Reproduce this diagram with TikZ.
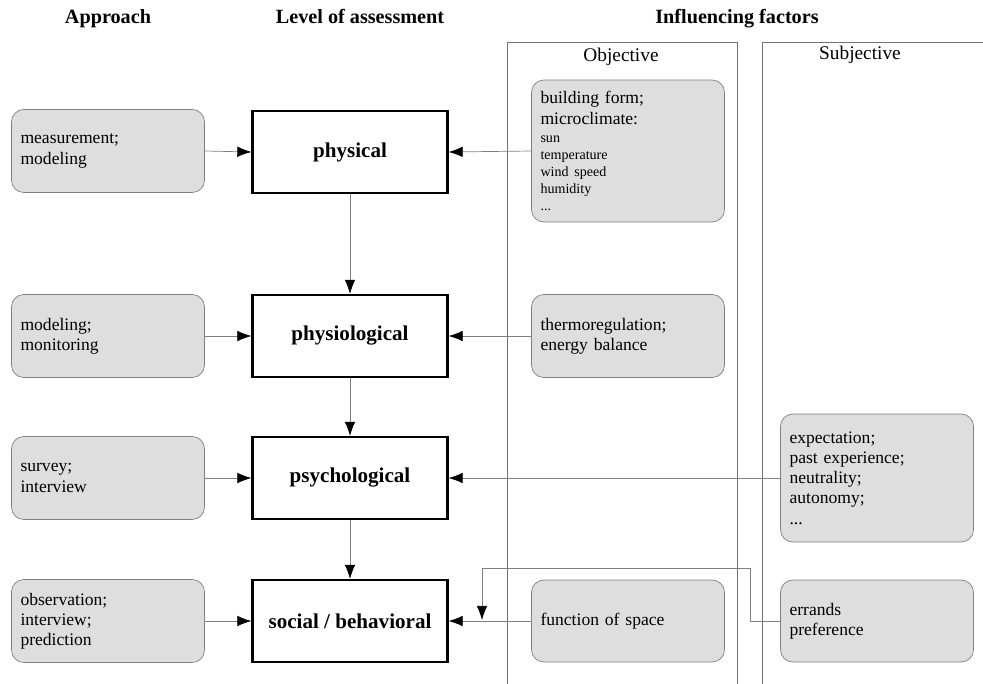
\documentclass[tikz,border=0pt]{standalone}
\usepackage{fontspec}
\setmainfont{Liberation Serif}
\usetikzlibrary{arrows.meta}
\begin{document}
\begin{tikzpicture}[x=0.02cm,y=-0.02cm,
  factor/.style={draw=black!50,fill=black!13,rounded corners=7pt,text width=3.5cm,inner xsep=0.18cm,align=left,font=\fontsize{10}{11.5}\selectfont},
  level/.style={draw,line width=1.3pt,minimum width=3.9cm,minimum height=1.64cm,font=\fontsize{12}{14}\selectfont\bfseries},
  head/.style={anchor=base,font=\fontsize{11.5}{14}\selectfont\bfseries},
  column/.style={anchor=base,font=\fontsize{11}{13}\selectfont},
  link/.style={draw=black!50,-{Latex[black,length=8pt,width=6pt]}}]
  \useasboundingbox (0,0) rectangle (983,683);
  \node[head] (hApp) at (108,23) {Approach};
  \node[head] (hLev) at (360,23) {Level of assessment};
  \node[head] (hInf) at (737,23) {Influencing factors};
  \draw[black!55] (507,690) -- (507,42) -- (737,42) -- (737,690);
  \draw[black!55] (762,690) -- (762,42) -- (990,42);
  \node[column] (hObj) at (621,61) {Objective};
  \node[column] (hSub) at (860,59) {Subjective};
  \node[level] (phys) at (350,152) {physical};
  \node[level] (physio) at (350,336) {physiological};
  \node[level] (psych) at (350,478) {psychological};
  \node[level] (social) at (350,621) {social / behavioral};
  \node[factor,minimum height=1.66cm] (aPhys) at (108,151) {measurement;\\modeling};
  \node[factor,minimum height=1.66cm] (aPhysio) at (108,336) {modeling;\\monitoring};
  \node[factor,minimum height=1.66cm] (aPsych) at (108,478) {survey;\\interview};
  \node[factor,minimum height=1.66cm] (aSoc) at (108,621) {observation;\\interview;\\prediction};
  \node[factor,minimum height=2.84cm] (oPhys) at (628,151) {building form;\\microclimate:\par\vspace{1pt}{\fontsize{8}{9.6}\selectfont sun\\temperature\\wind speed\\humidity\\...\par}};
  \node[factor,minimum height=1.66cm] (oPhysio) at (628,336) {thermoregulation;\\energy balance};
  \node[factor,minimum height=1.64cm] (oSoc) at (628,621) {function of space};
  \node[factor,minimum height=2.56cm] (sPsych) at (877,478) {expectation;\\past experience;\\neutrality;\\autonomy;\\...};
  \node[factor,minimum height=1.64cm] (sSoc) at (877,621) {errands\\preference};
  \coordinate (join) at (482,620);
  \draw[link] (aPhys.east) -- (phys.west);
  \draw[link] (aPhysio.east) -- (physio.west);
  \draw[link] (aPsych.east) -- (psych.west);
  \draw[link] (aSoc.east) -- (social.west);
  \draw[link] (oPhys.west) -- (phys.east);
  \draw[link] (oPhysio.west) -- (physio.east);
  \draw[link] (sPsych.west) -- (psych.east);
  \draw[link] (oSoc.west) -- (social.east);
  \draw[link] (phys) -- (physio);
  \draw[link] (physio) -- (psych);
  \draw[link] (psych) -- (social);
  \draw[link] (sSoc.west) -| (750,568) -| (join);
\end{tikzpicture}
\end{document}
